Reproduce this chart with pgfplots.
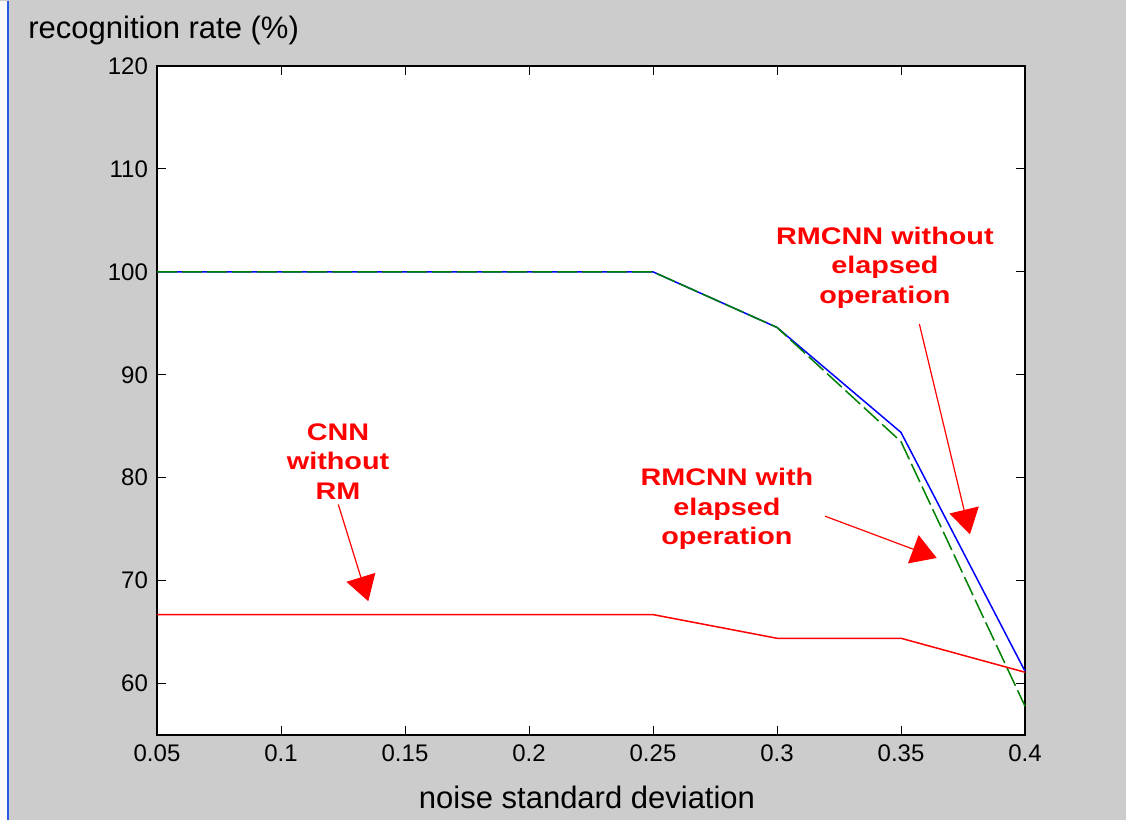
\documentclass[border=0pt]{standalone}
\usepackage{fontspec}
\setmainfont{Liberation Sans}
\newfontfamily\annfont[FakeStretch=1.2]{Liberation Sans}
\usepackage{pgfplots}
\pgfplotsset{compat=1.18}
\usetikzlibrary{arrows.meta,calc,backgrounds}
\definecolor{mgreen}{rgb}{0,0.5,0}
\definecolor{mgray}{RGB}{204,204,204}
\definecolor{edgeblue}{RGB}{40,90,230}
\begin{document}
\begin{tikzpicture}
\begin{axis}[
  scale only axis,
  width=434pt, height=334.5pt,
  xmin=0.05, xmax=0.4, ymin=55, ymax=120,
  xtick={0.05,0.1,0.15,0.2,0.25,0.3,0.35,0.4},
  xticklabels={0.05,0.1,0.15,0.2,0.25,0.3,0.35,0.4},
  ytick={60,70,80,90,100,110,120},
  yticklabels={60,70,80,90,100,110,120},
  tick align=inside,
  major tick length=4.5pt,
  tick style={black, line width=0.5pt},
  axis line style={black, line width=0.6pt},
  axis background/.style={fill=white},
  tick label style={font=\fontsize{12}{14}\selectfont, black},
  xticklabel style={yshift=-1.5pt},
  yticklabel style={xshift=-1pt},
  /pgf/number format/assume math mode=true,
  xlabel={noise standard deviation},
  ylabel={recognition rate (\%)},
  label style={font=\fontsize{15.5}{17}\selectfont, black},
  xlabel style={at={(rel axis cs:0.4954,-0.093)}, anchor=center},
  ylabel style={at={(rel axis cs:-0.1486,1.0404)}, anchor=base west, rotate=-90, inner sep=0pt},
  clip=false,
]
\addplot[blue, line width=0.75pt] coordinates {
 (0.05,100) (0.1,100) (0.15,100) (0.2,100) (0.25,100) (0.3,94.6) (0.35,84.4) (0.4,61.2)};
\addplot[mgreen, line width=0.75pt, dash pattern=on 10pt off 2.5pt] coordinates {
 (0.05,100) (0.1,100) (0.15,100) (0.2,100) (0.25,100) (0.3,94.6) (0.35,83.5) (0.4,57.8)};
\addplot[red, line width=0.75pt] coordinates {
 (0.05,66.7) (0.1,66.7) (0.15,66.7) (0.2,66.7) (0.25,66.7) (0.3,64.4) (0.35,64.4) (0.4,61.1)};

\node[text=red, font=\annfont\bfseries\fontsize{12}{14.75}\selectfont, align=center] at (axis cs:0.3435,100.4) {RMCNN without\\elapsed\\operation};
\node[text=red, font=\annfont\bfseries\fontsize{12}{14.75}\selectfont, align=center] at (axis cs:0.2798,76.94) {RMCNN with\\elapsed\\operation};
\node[text=red, font=\annfont\bfseries\fontsize{12}{14.75}\selectfont, align=center] at (axis cs:0.123,81.6) {CNN\\without\\RM};

\draw[red, line width=0.6pt, -{Triangle[length=12.5pt,width=15pt]}] (axis cs:0.3574,94.93) -- (axis cs:0.3778,74.5);
\draw[red, line width=0.6pt, -{Triangle[length=12.5pt,width=15pt]}] (axis cs:0.3194,76.26) -- (axis cs:0.3644,72.2);
\draw[red, line width=0.6pt, -{Triangle[length=12.5pt,width=15pt]}] (axis cs:0.1231,77.4) -- (axis cs:0.1352,68.0);

\coordinate (sw) at (rel axis cs:0,0);
\coordinate (ne) at (rel axis cs:1,1);
\end{axis}
\begin{pgfonlayer}{background}
\fill[mgray] ($(sw)+(-78.5pt,-42.5pt)$) rectangle ($(ne)+(50.5pt,33pt)$);
\fill[white!92!mgray] ($(sw)+(-78.5pt,-42.5pt)$) rectangle ($(sw)+(-75pt,367pt)$);
\draw[edgeblue, line width=1pt] ($(sw)+(-74.5pt,-42.5pt)$) -- ($(sw)+(-74.5pt,367pt)$);
\end{pgfonlayer}
\end{tikzpicture}
\end{document}
